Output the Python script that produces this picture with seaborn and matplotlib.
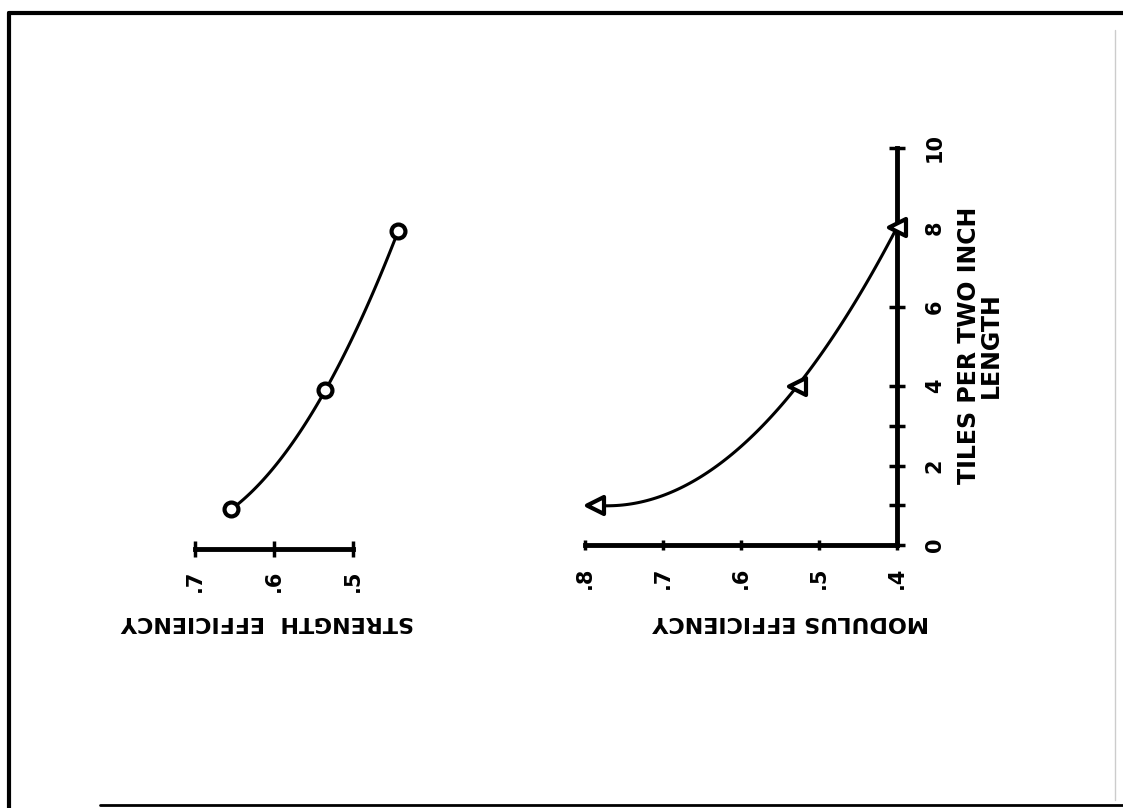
import numpy as np
import pandas as pd
import matplotlib
matplotlib.use('Agg')
import matplotlib.pyplot as plt
import seaborn as sns

""" Modulus / strength efficiency vs tiles per two inch length (page is turned 90 deg) """

# data
tiles = [1, 4, 8]
modulus_eff = [0.787, 0.528, 0.400]
strength_eff = [0.654, 0.535, 0.443]

tile_ticks = [0, 2, 4, 6, 8, 10]
tile_minor = [1, 3]
modulus_ticks = [0.8, 0.7, 0.6, 0.5, 0.4]
modulus_labels = ['.8', '.7', '.6', '.5', '.4']
strength_ticks = [0.7, 0.6, 0.5]
strength_labels = ['.7', '.6', '.5']

sns.set_style('white')
plt.rcParams['font.family'] = ['DejaVu Sans']
plt.rcParams['font.weight'] = 'bold'
plt.rcParams['text.color'] = 'black'
plt.rcParams['xtick.color'] = 'black'
plt.rcParams['ytick.color'] = 'black'
plt.rcParams['axes.labelcolor'] = 'black'

W, H = 1123, 808
fig = plt.figure(figsize=(W / 100, H / 100), dpi=100)


# axes box given in pixels of the page
def px_box(left, right, top, bottom):
    return [left / W, 1 - bottom / H, (right - left) / W, (bottom - top) / H]


ax_mod = fig.add_axes(px_box(585, 897, 148, 545))
ax_str = fig.add_axes(px_box(195, 353, 152, 549))
for ax in (ax_mod, ax_str):
    ax.patch.set_alpha(0)

line_kws = dict(color='black', lw=2.2, clip_on=False)

# modulus curve
df_mod = pd.DataFrame({'eff': modulus_eff, 'tiles': tiles})
sns.regplot(data=df_mod, x='eff', y='tiles', order=2, ci=None, scatter=False,
            line_kws=line_kws, ax=ax_mod)
sns.scatterplot(data=df_mod, x='eff', y='tiles', marker='<', s=150,
                facecolor='white', edgecolor='black', linewidth=3,
                zorder=3, clip_on=False, ax=ax_mod)

# strength curve
df_str = pd.DataFrame({'eff': strength_eff, 'tiles': tiles})
sns.regplot(data=df_str, x='eff', y='tiles', order=2, ci=None, scatter=False,
            line_kws=line_kws, ax=ax_str)
sns.scatterplot(data=df_str, x='eff', y='tiles', marker='o', s=100,
                facecolor='white', edgecolor='black', linewidth=3,
                zorder=3, clip_on=False, ax=ax_str)

# modulus axes: bottom = efficiency, right = tiles
ax_mod.set_xlim(0.8, 0.4)
ax_mod.set_ylim(0, 10)
ax_mod.spines[['left', 'top']].set_visible(False)
for s in ('bottom', 'right'):
    ax_mod.spines[s].set_linewidth(3.5)
    ax_mod.spines[s].set_color('black')
ax_mod.set_xticks(modulus_ticks)
ax_mod.set_xticklabels(modulus_labels, rotation=90, fontsize=15, fontweight='bold')
ax_mod.tick_params(axis='x', direction='inout', length=7, width=2.5, pad=12, bottom=True)
ax_mod.yaxis.tick_right()
ax_mod.set_yticks(tile_ticks)
ax_mod.set_yticks(tile_minor, minor=True)
ax_mod.set_yticklabels([str(t) for t in tile_ticks], rotation=90, fontsize=15,
                       fontweight='bold', va='center')
ax_mod.tick_params(axis='y', which='both', direction='inout', length=12, width=2.5,
                   pad=14, right=True, left=False)
ax_mod.set_ylabel('')
ax_mod.set_xlabel('MODULUS EFFICIENCY', rotation=180, fontsize=16, fontweight='bold')
ax_mod.xaxis.set_label_coords((791 - 585) / 312, (545 - 612) / 397)

# strength axes: only the efficiency scale
ax_str.set_xlim(0.7, 0.5)
ax_str.set_ylim(0, 10)
ax_str.spines[['left', 'top', 'right']].set_visible(False)
ax_str.spines['bottom'].set_linewidth(3.5)
ax_str.spines['bottom'].set_color('black')
ax_str.set_yticks([])
ax_str.set_ylabel('')
ax_str.set_xticks(strength_ticks)
ax_str.set_xticklabels(strength_labels, rotation=90, fontsize=15, fontweight='bold')
ax_str.tick_params(axis='x', direction='inout', length=12, width=2.5, pad=9, bottom=True)
ax_str.set_xlabel('STRENGTH  EFFICIENCY', rotation=180, fontsize=16, fontweight='bold')
ax_str.xaxis.set_label_coords((267 - 195) / 158, (549 - 612) / 397)

# tiles axis title
fig.text(980 / W, 1 - 345 / H, 'TILES PER TWO INCH\nLENGTH', rotation=90,
         ha='center', va='center', multialignment='center', linespacing=0.85,
         fontsize=17, fontweight='bold')

# border of the scanned page
fig.add_artist(plt.Line2D([9 / W, 9 / W], [0, 1 - 13 / H], color='black', lw=3))
fig.add_artist(plt.Line2D([9 / W, 1], [1 - 13 / H, 1 - 13 / H], color='black', lw=3))
fig.add_artist(plt.Line2D([100 / W, 1], [1 - 805 / H, 1 - 805 / H], color='black', lw=2))
fig.add_artist(plt.Line2D([1115 / W, 1115 / W], [1 - 800 / H, 1 - 30 / H],
                          color='#cccccc', lw=1))

fig.savefig('out.png', dpi=100, facecolor='white')
